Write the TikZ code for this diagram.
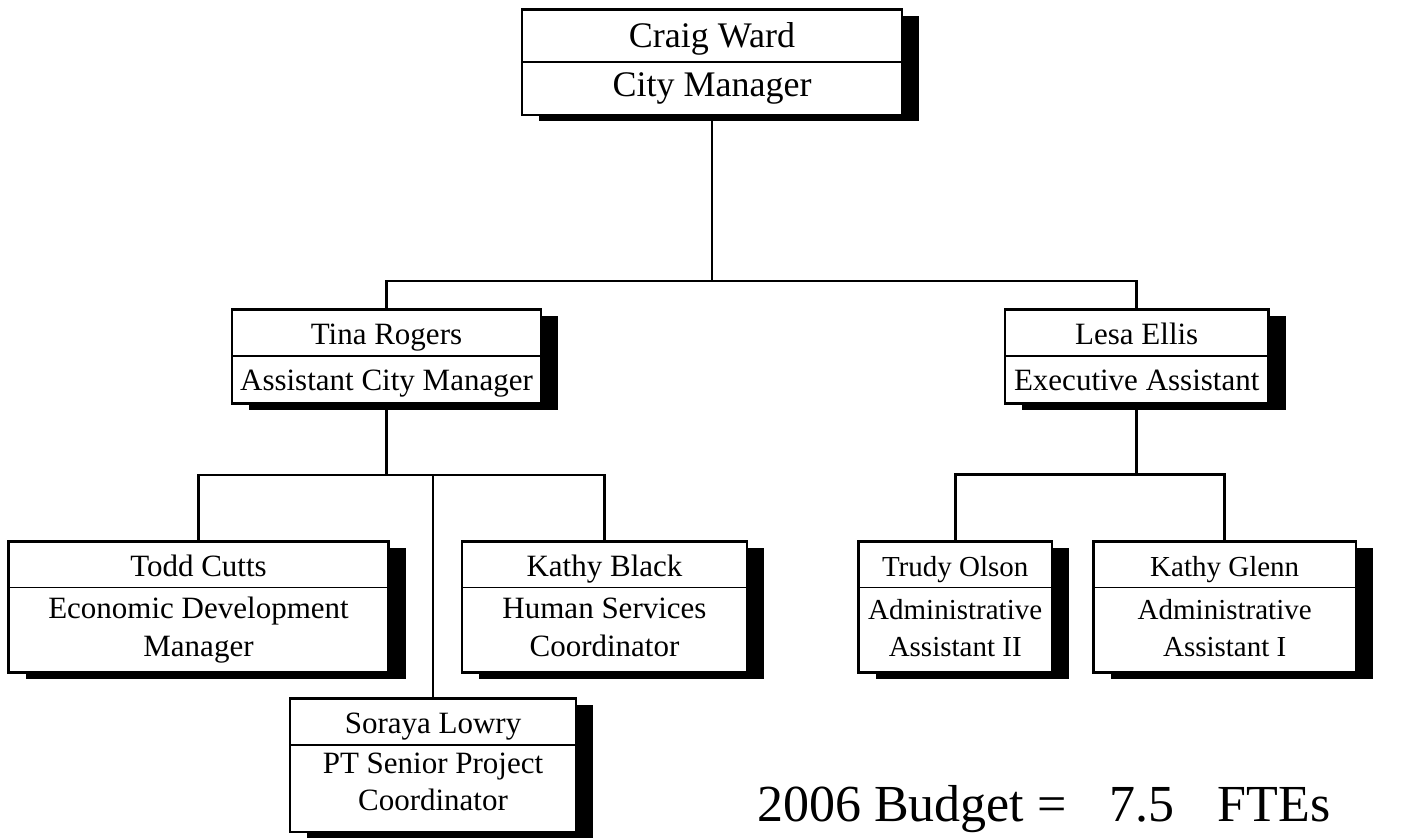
\documentclass[tikz,border=0pt]{standalone}
\usepackage{fontspec}
\setmainfont{Liberation Serif}
\usetikzlibrary{shadows}

\tikzset{
  orgframe/.style={draw=black, line width=2.6bp, fill=white, inner sep=0pt,
    general shadow={fill=black, shadow xshift=17bp, shadow yshift=-6bp}},
  divider/.style={line width=1.6bp},
  link/.style={line width=2.6bp},
  lbl/.style={anchor=base, inner sep=0pt, font=\fontsize{31bp}{38bp}\selectfont},
  smalllbl/.style={lbl, font=\fontsize{29bp}{36bp}\selectfont},
  toplbl/.style={lbl, font=\fontsize{36bp}{42bp}\selectfont},
  budgetlbl/.style={anchor=base west, inner sep=0pt, font=\fontsize{52bp}{60bp}\selectfont},
}

% #1 name, #2 left, #3 top, #4 right, #5 bottom, #6 divider line (y grows downward)
\newcommand\orgbox[6]{%
  \node[orgframe, minimum width={(#4-#2)*1bp}, minimum height={(#5-#3)*1bp}]
    (#1) at ({(#2+#4)/2},{(#3+#5)/2}) {};
  \draw[divider] (#2,#6) -- (#4,#6);
}

\begin{document}
\begin{tikzpicture}[x=1bp,y=-1bp]
  \useasboundingbox (0,0) rectangle (1418,837);
  \clip (0,0) rectangle (1418,837);

  % levels of the horizontal buses
  \coordinate (tier1) at (0,281);
  \coordinate (tier2) at (0,475);
  \coordinate (tier3) at (0,474.5);

  % boxes
  \orgbox{ward}{522}{9.5}{902}{115}{62}
  \orgbox{tina}{232}{309.5}{541}{403.5}{356}
  \orgbox{lesa}{1005}{309.5}{1268.5}{403.5}{356}
  \orgbox{todd}{8.5}{541.5}{388.5}{672.5}{587.5}
  \orgbox{kblack}{462}{541.5}{747}{672.5}{587.5}
  \orgbox{soraya}{290}{698.5}{576}{832}{745}
  \orgbox{trudy}{858.5}{541.5}{1052}{672.5}{587.5}
  \orgbox{kglenn}{1093.5}{541.5}{1356}{672.5}{587.5}

  % connectors
  \draw[link] (ward.south) -- (ward.south |- tier1);
  \draw[link] (tina.north) |- (ward.south |- tier1) -| (lesa.north);

  \draw[link] (tina.south) -- (tina.south |- tier2);
  \draw[link] (todd.north) |- (tina.south |- tier2) -| (kblack.north);
  \draw[link] (soraya.north) -- (soraya.north |- tier2);

  \draw[link] (lesa.south) -- (lesa.south |- tier3);
  \draw[link] (trudy.north) |- (lesa.south |- tier3) -| (kglenn.north);

  % texts
  \node[toplbl] (wardname)  at (712,47.5) {Craig Ward};
  \node[toplbl] (wardtitle) at (712,96) {City Manager};

  \node[lbl] (tinaname)  at (386.5,344) {Tina Rogers};
  \node[lbl] (tinatitle) at (386.5,390) {Assistant City Manager};

  \node[lbl] (lesaname)  at (1136.7,344) {Lesa Ellis};
  \node[lbl] (lesatitle) at (1136.7,390) {Executive Assistant};

  \node[lbl] (toddname)   at (198.5,576) {Todd Cutts};
  \node[lbl] (toddtitlea) at (198.5,618) {Economic Development};
  \node[lbl] (toddtitleb) at (198.5,656) {Manager};

  \node[lbl] (kblackname)   at (604.5,576) {Kathy Black};
  \node[lbl] (kblacktitlea) at (604.5,618) {Human Services};
  \node[lbl] (kblacktitleb) at (604.5,656) {Coordinator};

  \node[lbl] (sorayaname)   at (433,733) {Soraya Lowry};
  \node[lbl] (sorayatitlea) at (433,773) {PT Senior Project};
  \node[lbl] (sorayatitleb) at (433,810) {Coordinator};

  \node[smalllbl] (trudyname)   at (955.2,576) {Trudy Olson};
  \node[smalllbl] (trudytitlea) at (955.2,619) {Administrative};
  \node[smalllbl] (trudytitleb) at (955.2,656.5) {Assistant II};

  \node[smalllbl] (kglennname)   at (1224.7,576) {Kathy Glenn};
  \node[smalllbl] (kglenntitlea) at (1224.7,619) {Administrative};
  \node[smalllbl] (kglenntitleb) at (1224.7,656.5) {Assistant I};

  \node[budgetlbl] (budget) at (757,821.7)
    {2006 Budget = \hspace{30bp}7.5 \hspace{30bp}FTEs};
\end{tikzpicture}
\end{document}
